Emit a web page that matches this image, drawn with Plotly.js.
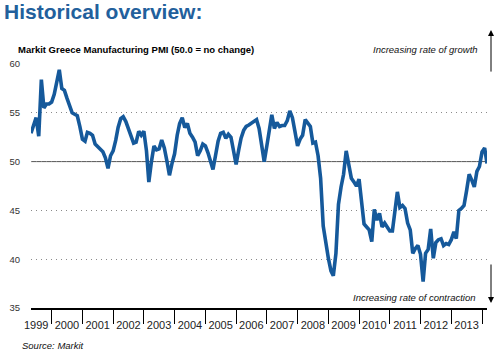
<!DOCTYPE html>
<html><head><meta charset="utf-8">
<script src="https://cdn.plot.ly/plotly-3.0.1.min.js"></script>
<style>html,body{margin:0;padding:0;background:#fff}#chart{width:502px;height:356px}</style>
</head><body><div id="chart"></div>
<script>
// Markit Greece Manufacturing PMI, monthly, May 1999 - Mar 2014
const pmi1999 = [52.9, 53.7, 54.5, 52.6, 58.4, 55.5, 55.9, 55.9];
const pmi2000 = [56.1, 56.9, 58.1, 59.4, 57.5, 57.3, 56.5, 55.6, 55.0, 54.85, 54.7, 53.6];
const pmi2001 = [52.3, 52.1, 53.0, 52.9, 52.7, 51.8, 51.5, 51.3, 51.0, 50.4, 49.3, 50.6];
const pmi2002 = [51.1, 52.2, 53.5, 54.4, 54.6, 54.1, 53.3, 52.6, 51.9, 52.0, 53.1, 52.7];
const pmi2003 = [53.1, 51.1, 47.9, 50.0, 51.6, 51.2, 51.3, 52.2, 51.4, 50.1, 48.6, 49.8];
const pmi2004 = [50.8, 52.7, 53.9, 54.5, 53.5, 53.9, 52.9, 52.5, 52.0, 50.6, 51.1, 51.8];
const pmi2005 = [51.6, 50.9, 50.0, 49.2, 50.6, 52.1, 52.9, 53.0, 52.4, 52.8, 52.5, 51.2];
const pmi2006 = [49.7, 51.2, 52.4, 53.2, 53.6, 53.75, 53.9, 54.1, 54.3, 53.4, 51.4, 50.0];
const pmi2007 = [51.6, 53.3, 54.8, 53.4, 54.0, 53.6, 53.7, 53.7, 54.2, 55.2, 54.5, 53.1];
const pmi2008 = [51.6, 52.3, 52.7, 54.3, 53.9, 53.6, 51.9, 52.0, 50.6, 48.3, 43.4, 41.5];
const pmi2009 = [40.1, 38.8, 38.3, 40.6, 45.6, 47.4, 48.7, 51.1, 49.7, 48.3, 47.9, 47.5];
const pmi2010 = [48.2, 45.7, 43.6, 43.3, 43.0, 41.8, 45.1, 44.0, 44.7, 43.3, 43.7, 43.3];
const pmi2011 = [42.9, 42.9, 45.2, 46.9, 45.3, 45.5, 45.2, 43.7, 43.0, 40.6, 41.1, 41.4];
const pmi2012 = [40.5, 37.7, 40.6, 41.0, 43.1, 40.1, 41.7, 42.0, 42.1, 41.4, 41.6, 41.5];
const pmi2013 = [42.0, 42.8, 42.1, 45.0, 45.2, 45.5, 47.0, 48.7, 48.1, 47.4, 49.0, 49.5];
const pmi2014 = [51.0, 51.4, 49.8];

const yearLabels = ['1999','2000','2001','2002','2003','2004','2005','2006','2007','2008','2009','2010','2011','2012','2013'];
const yTicks = [35, 40, 45, 50, 55, 60];
const noChange = 50;
const firstYear = 1999, firstMonthIndex = 4; // May

const values = [].concat(pmi1999, pmi2000, pmi2001, pmi2002, pmi2003, pmi2004, pmi2005,
  pmi2006, pmi2007, pmi2008, pmi2009, pmi2010, pmi2011, pmi2012, pmi2013, pmi2014);
const dates = values.map((v, i) => {
  const m = firstMonthIndex + i;
  const y = firstYear + Math.floor(m / 12);
  return y + '-' + String(m % 12 + 1).padStart(2, '0') + '-01';
});

const trace = {
  x: dates, y: values, type: 'scatter', mode: 'lines',
  line: {color: '#15599b', width: 3.6},
  hoverinfo: 'skip'
};

const F = 'Liberation Sans, Arial, sans-serif';
const layout = {
  width: 502, height: 356,
  margin: {l: 31, r: 15, t: 64, b: 48},
  paper_bgcolor: '#fff', plot_bgcolor: '#fff',
  showlegend: false,
  title: {text: 'Historical overview:', font: {family: F, size: 21, color: '#22609c', weight: 'bold'},
    xref: 'container', yref: 'container', x: 0.008, xanchor: 'left', y: 0.966, yanchor: 'middle'},
  xaxis: {
    type: 'date', range: [dates[0], dates[dates.length - 1]],
    showgrid: false, zeroline: false,
    showline: true, linecolor: '#000', linewidth: 2,
    tickmode: 'array', tickvals: yearLabels.map(y => y + '-07-01'), ticktext: yearLabels,
    ticks: 'outside', ticklen: 6, tickcolor: 'rgba(0,0,0,0)',
    tickfont: {family: F, size: 11, color: '#222'},
    minor: {ticks: 'outside', ticklen: 14, tickwidth: 1, tickcolor: '#000',
      tick0: '2000-01-01', dtick: 'M12', showgrid: false}
  },
  yaxis: {
    range: [35, 60], tickmode: 'array', tickvals: yTicks,
    showgrid: true, gridcolor: '#8a8a8a', gridwidth: 1, griddash: '1px,4px',
    zeroline: false, showline: false,
    ticks: 'outside', ticklen: 8, tickcolor: 'rgba(0,0,0,0)',
    tickfont: {family: F, size: 9.5, color: '#333'}
  },
  shapes: [{type: 'line', xref: 'paper', x0: 0, x1: 1, yref: 'y', y0: noChange, y1: noChange,
    line: {color: '#555', width: 1}, layer: 'below'}],
  annotations: [
    {text: '<b>Markit Greece Manufacturing PMI (50.0 = no change)</b>', xref: 'paper', yref: 'paper',
      x: -0.033, y: 1.061, xanchor: 'left', yanchor: 'middle', showarrow: false,
      font: {family: F, size: 9.5, color: '#000'}},
    {text: '<i>Increasing rate of growth</i>', xref: 'paper', yref: 'paper',
      x: 0.985, y: 1.061, xanchor: 'right', yanchor: 'middle', showarrow: false,
      font: {family: F, size: 9.5, color: '#111'}},
    {text: '<i>Increasing rate of contraction</i>', xref: 'paper', yref: 'paper',
      x: 0.981, y: 0.042, xanchor: 'right', yanchor: 'middle', showarrow: false,
      font: {family: F, size: 9.5, color: '#111'}},
    {text: '<i>Source: Markit</i>', xref: 'paper', yref: 'paper',
      x: -0.024, y: -0.152, xanchor: 'left', yanchor: 'middle', showarrow: false,
      font: {family: F, size: 9.5, color: '#111'}},
    {text: '', xref: 'paper', yref: 'paper', x: 1.0088, y: 1.139, showarrow: true,
      axref: 'pixel', ayref: 'pixel', ax: 0, ay: 43,
      arrowhead: 2, arrowsize: 1.2, arrowwidth: 1, arrowcolor: '#000', standoff: 0},
    {text: '', xref: 'paper', yref: 'paper', x: 1.0088, y: 0.0205, showarrow: true,
      axref: 'pixel', ayref: 'pixel', ax: 0, ay: -40,
      arrowhead: 2, arrowsize: 1.2, arrowwidth: 1, arrowcolor: '#000', standoff: 0}
  ]
};

Plotly.newPlot('chart', [trace], layout, {displayModeBar: false, staticPlot: true});
</script>
</body></html>
